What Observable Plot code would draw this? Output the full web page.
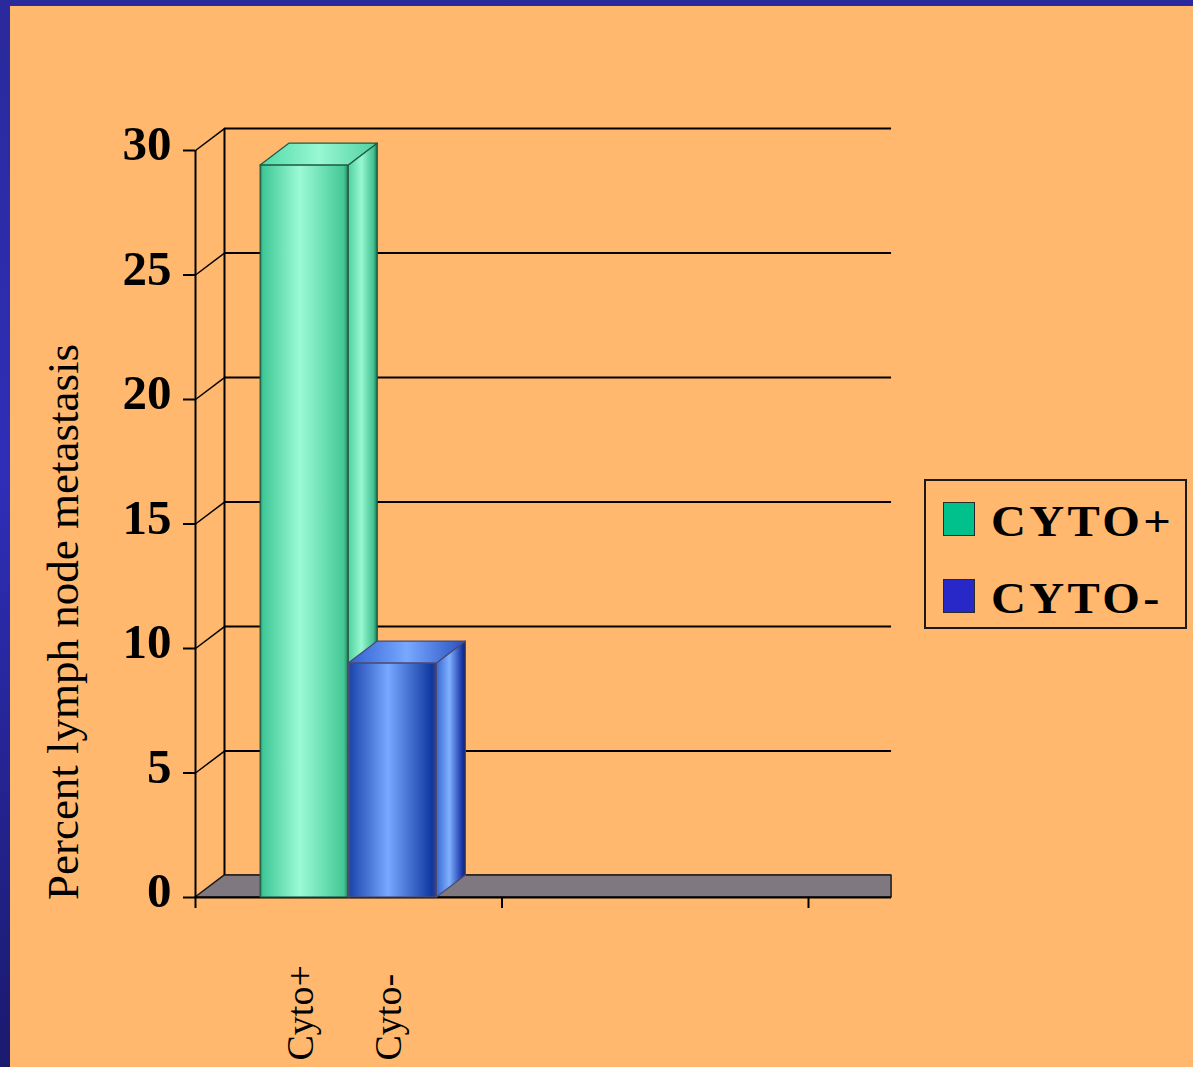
<!DOCTYPE html>
<html><head><meta charset="utf-8">
<script src="https://cdn.jsdelivr.net/npm/d3@7"></script>
<script src="https://cdn.jsdelivr.net/npm/@observablehq/plot@0.6"></script>
<style>
html,body{margin:0;padding:0;}
body{width:1193px;height:1067px;overflow:hidden;position:relative;
  background:linear-gradient(180deg,#2a2a9c 0%,#2e2eb8 45%,#1a1a6e 100%);
  font-family:"Liberation Serif","Times New Roman",serif;color:#000;}
#chart{position:absolute;left:10px;top:6px;width:1183px;height:1061px;background:#FFB86E;}
#chart svg{display:block;overflow:visible;}
#ytitle{position:absolute;left:63px;top:621.5px;transform:translate(-50%,-50%) rotate(-90deg);
  font-size:45px;line-height:1;white-space:nowrap;}
#legend{position:absolute;left:924px;top:479px;width:259px;height:146px;border:2px solid #1a1a1a;}
.sw{position:absolute;left:943px;width:30px;height:32px;border:1.5px solid #2a2a2a;}
.lt{position:absolute;left:991px;font-size:44px;line-height:44px;font-weight:bold;letter-spacing:3px;white-space:nowrap;
  transform:scaleX(1.1);transform-origin:0 0;}
</style></head><body>
<div id="chart"></div>
<div id="ytitle"></div>
<div id="legend"></div>
<script>
// ---- data ----
const categories = ["Cyto+", "Cyto-"];
const values = [29.4, 9.4];
const seriesNames = ["CYTO+", "CYTO-"];
const yTicks = [0, 5, 10, 15, 20, 25, 30];
const slotTicks = [0, 1, 2];
const yTitle = "Percent lymph node metastasis";

// ---- styles ----
const swatchColors = ["#00C08C", "#2828C8"];
const barStroke = ["#1E5A44", "#4a4a70"];
const gradFront = [
  [[0,"#2a7a5a"],[0.03,"#40C898"],[0.45,"#9CFAD6"],[0.95,"#44C896"],[1,"#2a7a5a"]],
  [[0,"#505078"],[0.03,"#1E48B0"],[0.45,"#78A8FF"],[0.95,"#1038A0"],[1,"#404080"]]
];
const gradSide = [
  [[0,"#50D0A0"],[0.45,"#98F8D0"],[0.88,"#40C090"],[1,"#206848"]],
  [[0,"#3868D0"],[0.45,"#80B0FF"],[0.88,"#1838A8"],[1,"#102060"]]
];
const gradTop = [
  [[0,"#50D8A8"],[0.5,"#98F8D4"],[1,"#50D0A0"]],
  [[0,"#3060D0"],[0.5,"#78A8FF"],[1,"#2850C0"]]
];

// ---- 3D geometry (in scale units) ----
const DX = 0.0946;      // depth offset along x (slot units)
const DZ = 0.88;        // depth offset along y (value units)
const wallEnd = 2.271;  // right end of walls / floor
const groupStart = 0.2125, barW = 0.2875;
const yMax = d3.max(yTicks);

const bars = categories.map((c, i) => ({
  c, i, v: values[i], a: groupStart + i * barW, b: groupStart + (i + 1) * barW
}));

const barMarks = bars.flatMap(d => [
  Plot.rect([d], {x1: "a", x2: "b", y1: 0, y2: "v", fill: `url(#front${d.i})`, stroke: barStroke[d.i], strokeWidth: 1.2}),
  Plot.areaY([{x: d.b, y1: 0, y2: d.v}, {x: d.b + DX, y1: DZ, y2: d.v + DZ}],
    {x: "x", y1: "y1", y2: "y2", fill: `url(#side${d.i})`, stroke: barStroke[d.i], strokeWidth: 1.2}),
  Plot.areaX([{y: d.v, x1: d.a, x2: d.b}, {y: d.v + DZ, x1: d.a + DX, x2: d.b + DX}],
    {y: "y", x1: "x1", x2: "x2", fill: `url(#top${d.i})`, stroke: barStroke[d.i], strokeWidth: 1.2})
]);

const svg = Plot.plot({
  width: 1183, height: 1061,
  marginLeft: 185, marginRight: 78.5, marginTop: 144, marginBottom: 170,
  x: {domain: [0, 3], range: [185, 1104.5]},
  y: {domain: [0, yMax], range: [891, 144]},
  style: {background: "transparent", fontFamily: "'Liberation Serif','Times New Roman',serif", color: "black"},
  marks: [
    // back wall gridlines
    Plot.ruleY(yTicks, {y: d => d + DZ, x1: DX, x2: wallEnd, stroke: "#000", strokeWidth: 2}),
    // back wall left edge
    Plot.ruleX([DX], {y1: DZ, y2: yMax + DZ, stroke: "#000", strokeWidth: 2}),
    // side wall diagonals
    Plot.link(yTicks, {x1: 0, x2: DX, y1: d => d, y2: d => d + DZ, stroke: "#000", strokeWidth: 1.5}),
    // floor
    Plot.areaX([{y: 0, x1: 0, x2: wallEnd}, {y: DZ, x1: DX, x2: wallEnd}],
      {y: "y", x1: "x1", x2: "x2", fill: "#807880", stroke: "#1a1a1a", strokeWidth: 1.5}),
    // front axis lines
    Plot.ruleY([0], {x1: 0, x2: wallEnd, stroke: "#000", strokeWidth: 2}),
    Plot.ruleX([0], {y1: 0, y2: yMax, stroke: "#000", strokeWidth: 2}),
    Plot.axisY({ticks: yTicks, tickSize: 12, tickPadding: 12, fontSize: 49, fontWeight: "bold", strokeWidth: 2, label: null, textStroke: "none"}),
    Plot.axisX({ticks: slotTicks, tickSize: 11, tickFormat: () => "", strokeWidth: 2, label: null}),
    ...barMarks,
    Plot.text(bars, {x: d => (d.a + d.b) / 2, y: 0, dy: 163, dx: -4, text: "c", rotate: -90,
      textAnchor: "start", fontSize: 38, fill: "#000"})
  ]
});

const defs = d3.select(svg).insert("defs", ":first-child");
function grad(id, stops) {
  const g = defs.append("linearGradient").attr("id", id)
    .attr("x1", 0).attr("x2", 1).attr("y1", 0).attr("y2", 0);
  stops.forEach(([o, c]) => g.append("stop").attr("offset", o).attr("stop-color", c));
}
bars.forEach(d => {
  grad(`front${d.i}`, gradFront[d.i]);
  grad(`side${d.i}`, gradSide[d.i]);
  grad(`top${d.i}`, gradTop[d.i]);
});

// lift y tick labels slightly above their ticks, as in the reference
d3.select(svg).selectAll("[aria-label='y-axis tick label'] text").attr("dy", -6);

document.getElementById("chart").appendChild(svg);
document.getElementById("ytitle").textContent = yTitle;

// legend
const swTops = [502, 579], txTops = [500, 577];
seriesNames.forEach((s, i) => {
  const sw = document.createElement("div");
  sw.className = "sw"; sw.style.top = swTops[i] + "px"; sw.style.background = swatchColors[i];
  document.body.appendChild(sw);
  const t = document.createElement("div");
  t.className = "lt"; t.style.top = txTops[i] + "px"; t.textContent = s;
  document.body.appendChild(t);
});
</script>
</body></html>
